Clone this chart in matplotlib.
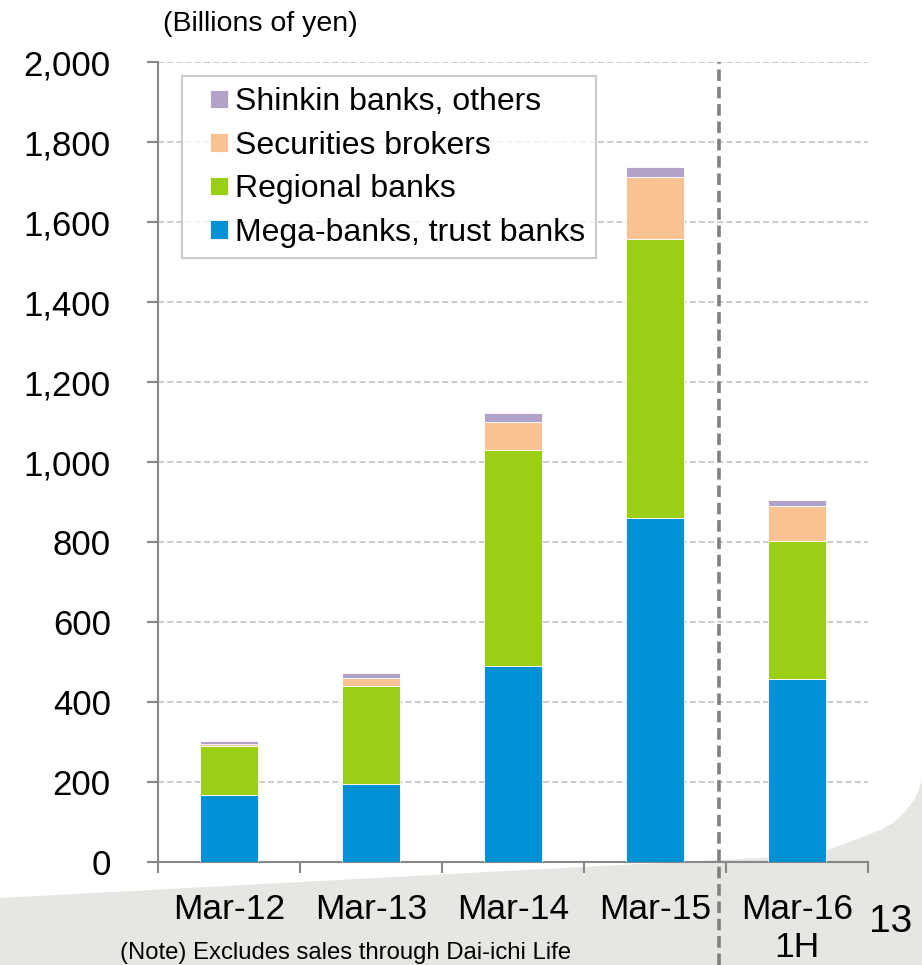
import matplotlib
matplotlib.use('Agg')
import matplotlib.pyplot as plt
from matplotlib.patches import Polygon, Rectangle
from matplotlib.legend_handler import HandlerPatch
import numpy as np

plt.rcParams['font.family'] = ['Liberation Sans', 'DejaVu Sans']

periods = ['Mar-12', 'Mar-13', 'Mar-14', 'Mar-15', 'Mar-16\n1H']
mega = [167, 196, 490, 860, 457]
regional = [123, 244, 540, 697, 345]
securities = [5, 21, 70, 156, 89]
shinkin = [7, 11, 23, 24, 14]

series_names = ['Mega-banks, trust banks', 'Regional banks',
                'Securities brokers', 'Shinkin banks, others']
colors = ['#0090d4', '#9bcf15', '#f9c292', '#b3a2c7']

W, H = 922, 965
fig = plt.figure(figsize=(W/100, H/100), dpi=100)
fig.patch.set_facecolor('white')

# grey swoosh in the background (pixel coords -> figure fraction)
pts = [(0, 898), (300, 882), (600, 866), (780, 857), (827, 850), (860, 838),
       (880, 830), (893, 823), (905, 812), (914, 800), (920, 787), (922, 778),
       (922, 965), (0, 965)]
pts = [(px/W, 1 - py/H) for px, py in pts]
fig.patches.append(Polygon(pts, closed=True, transform=fig.transFigure,
                           facecolor='#e8e6e2', edgecolor='none', zorder=-1))

ax = fig.add_axes([158/W, 1 - 862/H, 710/W, 800/H])
ax.set_facecolor('none')
x = np.arange(len(periods))
bottom = np.zeros(len(periods))
handles = []
for vals, c, name in zip([mega, regional, securities, shinkin], colors, series_names):
    bc = ax.bar(x, vals, 0.41, bottom=bottom, color=c, label=name,
                edgecolor='white', linewidth=0.6, zorder=3)
    handles.append(bc.patches[0])
    bottom += np.array(vals)

ax.set_xlim(-0.5, 4.5)
ax.set_ylim(0, 2000)
ax.set_yticks(range(0, 2001, 200))
ax.set_yticklabels([f'{v:,}' for v in range(0, 2001, 200)])
ax.yaxis.grid(True, color='#bfbfbf', linestyle=(0, (4, 2)), linewidth=1.1)
ax.set_axisbelow(True)

ax.set_xticks(np.arange(-0.5, 5, 1))
ax.set_xticklabels([])
ax.set_xticks(x, minor=True)
ax.set_xticklabels(periods, minor=True, fontsize=25.5, linespacing=1.2, va='top')
ax.tick_params(axis='x', which='minor', length=0, pad=22)
ax.tick_params(axis='x', which='major', length=8, width=1.5, color='#888888', direction='out')
ax.tick_params(axis='y', length=8, width=1.5, color='#888888', labelsize=25, pad=26)

for s in ['top', 'right']:
    ax.spines[s].set_visible(False)
for s in ['left', 'bottom']:
    ax.spines[s].set_color('#888888')
    ax.spines[s].set_linewidth(1.5)

# separator between full-year and half-year
ax.axvline(3.45, ymin=-(H - 862)/800, ymax=1, color='#808080', linewidth=2.6,
           linestyle=(0, (3.2, 1.6)), clip_on=False, zorder=4)


def square(legend, orig_handle, xdescent, ydescent, width, height, fontsize):
    s = 0.58 * fontsize
    return Rectangle((-xdescent + width - s, -ydescent + (height - s) / 2), s, s)


leg = ax.legend(handles[::-1], series_names[::-1], loc='upper left',
                bbox_to_anchor=(0.034, 0.982),
                fontsize=23, frameon=True, fancybox=False, handlelength=1.1,
                handleheight=0.7, handletextpad=0.22, labelspacing=0.42,
                borderpad=0.34, borderaxespad=0,
                handler_map={Rectangle: HandlerPatch(patch_func=square)})
leg.get_frame().set_edgecolor('#bfbfbf')
leg.get_frame().set_linewidth(1.5)

fig.text(163/W, 1 - 24/H, '(Billions of yen)', fontsize=20.5, va='center', ha='left')
fig.text(120/W, 1 - 953/H, '(Note) Excludes sales through Dai-ichi Life',
         fontsize=17.2, va='center', ha='left')
fig.text(891/W, 1 - 922/H, '13', fontsize=28, va='center', ha='center')

fig.savefig('out.png', dpi=100)
